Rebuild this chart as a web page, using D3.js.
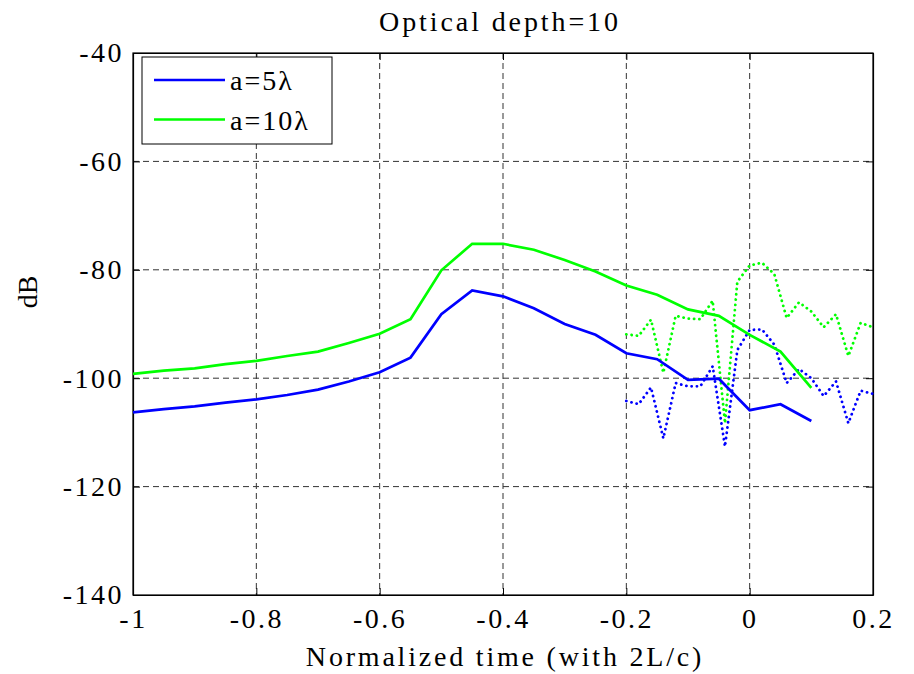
<!DOCTYPE html>
<html><head><meta charset="utf-8">
<script src="https://cdn.jsdelivr.net/npm/d3@7/dist/d3.min.js"></script>
<style>
body{margin:0;background:#fff;}
text{font-family:"Liberation Serif","Times New Roman",serif;fill:#000;}
</style></head>
<body><svg id="c" width="914" height="674"></svg>
<script>
// Solid curves (x step 0.05)
const solidX = [-1,-0.95,-0.9,-0.85,-0.8,-0.75,-0.7,-0.65,-0.6,-0.55,-0.5,-0.45,-0.4,-0.35,-0.3,-0.25,-0.2,-0.15,-0.1,-0.05,0,0.05,0.1];
const blueSolid  = [-106.3,-105.7,-105.2,-104.5,-103.9,-103.1,-102.1,-100.6,-98.9,-96.2,-88.2,-83.8,-84.9,-87.1,-90.0,-92.0,-95.4,-96.5,-100.3,-100.1,-105.9,-104.8,-107.9];
const greenSolid = [-99.2,-98.6,-98.2,-97.4,-96.8,-95.9,-95.1,-93.5,-91.8,-89.1,-80.1,-75.2,-75.2,-76.3,-78.2,-80.3,-82.9,-84.6,-87.3,-88.5,-92.0,-95.1,-101.8];
// Dotted curves (x step 0.02)
const dotX = [-0.2,-0.18,-0.16,-0.14,-0.12,-0.1,-0.08,-0.06,-0.04,-0.02,0,0.02,0.04,0.06,0.08,0.1,0.12,0.14,0.16,0.18,0.2];
const blueDot  = [-104.2,-104.8,-101.7,-111.1,-100.9,-101.5,-101.5,-97.8,-112.6,-94.8,-91.1,-91.0,-93.8,-100.9,-98.3,-100.0,-103.3,-100.6,-108.3,-102.3,-102.9];
const greenDot = [-91.9,-92.2,-89.2,-99.0,-88.5,-89.0,-89.1,-85.7,-108.3,-82.2,-79.2,-78.7,-80.8,-88.9,-86.0,-87.7,-90.6,-88.2,-95.9,-89.8,-90.6];
const xTicks = [-1,-0.8,-0.6,-0.4,-0.2,0,0.2];
const yTicks = [-140,-120,-100,-80,-60,-40];
const legendLabels = ["a=5\u03bb","a=10\u03bb"];
const titleText = "Optical depth=10";
const xLabel = "Normalized time (with 2L/c)";
const yLabel = "dB";

const svg = d3.select("#c");
const L=133,R=873,T=53,B=595;
const FS = 28;
const x = d3.scaleLinear().domain([-1,0.2]).range([L,R]);
const y = d3.scaleLinear().domain([-140,-40]).range([B,T]);

// grid
const g = svg.append("g");
g.selectAll(".gx").data(xTicks.slice(1,-1)).join("line")
  .attr("x1",d=>x(d)).attr("x2",d=>x(d)).attr("y1",T).attr("y2",B)
  .attr("stroke","#333").attr("stroke-width",1).attr("stroke-dasharray","6,4");
g.selectAll(".gy").data(yTicks.slice(1,-1)).join("line")
  .attr("y1",d=>y(d)).attr("y2",d=>y(d)).attr("x1",L).attr("x2",R)
  .attr("stroke","#333").attr("stroke-width",1).attr("stroke-dasharray","6,4");

// axes with inward ticks
const ax = svg.append("g");
ax.append("g").attr("transform",`translate(0,${B})`)
  .call(d3.axisBottom(x).tickValues(xTicks).tickSizeInner(-7).tickSizeOuter(0).tickPadding(13).tickFormat(d=>String(d)));
ax.append("g").attr("transform",`translate(0,${T})`)
  .call(d3.axisTop(x).tickValues(xTicks).tickSizeInner(-7).tickSizeOuter(0).tickFormat(""));
ax.append("g").attr("transform",`translate(${L},0)`)
  .call(d3.axisLeft(y).tickValues(yTicks).tickSizeInner(-7).tickSizeOuter(0).tickPadding(9).tickFormat(d=>String(d)));
ax.append("g").attr("transform",`translate(${R},0)`)
  .call(d3.axisRight(y).tickValues(yTicks).tickSizeInner(-7).tickSizeOuter(0).tickFormat(""));
ax.selectAll(".domain").attr("stroke","#000").attr("stroke-width",1.2);
ax.selectAll(".tick line").attr("stroke","#000");
ax.selectAll(".tick text").attr("font-family","Liberation Serif").attr("font-size",FS).attr("letter-spacing","2.5px").attr("fill","#000");
svg.append("rect").attr("x",L).attr("y",T).attr("width",R-L).attr("height",B-T).attr("fill","none").attr("stroke","#000").attr("stroke-width",1.2);

// lines
const line = d3.line().x(d=>x(d[0])).y(d=>y(d[1]));
const zip = (xs,ys)=>xs.map((v,i)=>[v,ys[i]]);
svg.append("path").attr("d",line(zip(dotX,blueDot))).attr("fill","none").attr("stroke","#0000ff")
  .attr("stroke-width",2.8).attr("stroke-linecap","round").attr("stroke-dasharray","0.1,5.2");
svg.append("path").attr("d",line(zip(dotX,greenDot))).attr("fill","none").attr("stroke","#00ff00")
  .attr("stroke-width",2.8).attr("stroke-linecap","round").attr("stroke-dasharray","0.1,5.2");
svg.append("path").attr("d",line(zip(solidX,blueSolid))).attr("fill","none").attr("stroke","#0000ff").attr("stroke-width",2.7);
svg.append("path").attr("d",line(zip(solidX,greenSolid))).attr("fill","none").attr("stroke","#00ff00").attr("stroke-width",2.7);

// legend
const lg = svg.append("g");
lg.append("rect").attr("x",142).attr("y",57).attr("width",190).attr("height",87).attr("fill","#fff").attr("stroke","#000").attr("stroke-width",1);
const lc = ["#0000ff","#00ff00"];
legendLabels.forEach((t,i)=>{
  const yy = 80 + i*39.5;
  lg.append("line").attr("x1",154).attr("x2",225).attr("y1",yy).attr("y2",yy).attr("stroke",lc[i]).attr("stroke-width",2.7);
  lg.append("text").attr("x",230).attr("y",yy+10).attr("font-size",FS).attr("letter-spacing","2px").text(t);
});

// titles
svg.append("text").attr("x",500).attr("y",31).attr("text-anchor","middle").attr("font-size",FS).attr("letter-spacing","2.9px").text(titleText);
svg.append("text").attr("x",505).attr("y",666).attr("text-anchor","middle").attr("font-size",FS).attr("letter-spacing","2.8px").text(xLabel);
svg.append("text").attr("transform",`translate(37,292) rotate(-90)`).attr("text-anchor","middle").attr("font-size",FS).text(yLabel);
</script></body></html>
